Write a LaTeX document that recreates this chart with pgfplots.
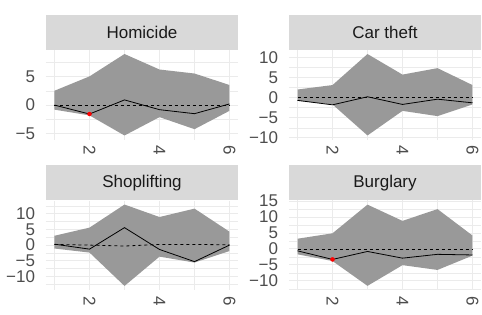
\documentclass[border=0pt]{standalone}
\usepackage{fontspec}
\setmainfont{Liberation Sans}
\usepackage{pgfplots}
\pgfplotsset{compat=1.18}
\definecolor{grid92}{HTML}{EBEBEB}
\definecolor{stripgray}{HTML}{D9D9D9}
\definecolor{ribbon}{HTML}{999999}
\definecolor{tick30}{HTML}{4D4D4D}
\definecolor{text10}{HTML}{1A1A1A}
\pgfplotsset{panel/.style={
  scale only axis, width=192.5pt, height=89.5pt,
  anchor=south west,
  xmin=0.75, xmax=6.25,
  xtick={2,4,6}, minor xtick={1,3,5},
  xticklabels={2,4,6},
  grid=both,
  major grid style={draw=grid92, line width=0.9pt},
  minor grid style={draw=grid92, line width=0.45pt},
  axis line style={draw=none},
  major tick length=0pt, minor tick length=0pt,
  tick style={draw=none},
  ticklabel style={font=\fontsize{17}{17}\selectfont, text=tick30},
  yticklabel style={anchor=east, inner xsep=10.5pt, inner ysep=0pt},
  xticklabel style={rotate=-90, anchor=west, inner xsep=6pt, inner ysep=0pt},
  title style={at={(0.5,1)}, anchor=south, yshift=-6pt, fill=stripgray,
    minimum width=192.5pt, minimum height=35pt, inner sep=0pt,
    text=text10, font=\fontsize{17}{17}\selectfont},
}}
\tikzset{est/.style={black, line width=0.8pt},
  nul/.style={black, line width=0.8pt, dash pattern=on 3pt off 3pt},
  rib/.style={fill=ribbon, draw=none},
  pt/.style={only marks, mark=*, mark size=2pt, color=red}}
\begin{document}
\begin{tikzpicture}
\path[use as bounding box] (0,0) rectangle (482pt,314pt);
% Homicide
\begin{axis}[panel, at={(45.75pt,174.5pt)}, title={Homicide},
  ymin=-6.0, ymax=9.6, ytick={-5,0,5}, yticklabels={−5,0,5},
  minor ytick={-2.5,2.5,7.5}]
\addplot[rib] coordinates {(1,2.5) (2,5.0) (3,8.9) (4,6.2) (5,5.5) (6,3.5)
  (6,-1.0) (5,-4.2) (4,-2.1) (3,-5.3) (2,-1.8) (1,-0.8)} -- cycle;
\addplot[nul] coordinates {(1,0) (2,0) (3,0) (4,0) (5,0) (6,0)};
\addplot[est] coordinates {(1,0.0) (2,-1.56) (3,0.9) (4,-0.8) (5,-1.5) (6,0.2)};
\addplot[pt] coordinates {(2,-1.56)};
\end{axis}
% Car theft
\begin{axis}[panel, at={(288.75pt,174.5pt)}, title={Car theft},
  ymin=-10.4, ymax=11.8, ytick={-10,-5,0,5,10}, yticklabels={−10,−5,0,5,10},
  minor ytick={-7.5,-2.5,2.5,7.5}]
\addplot[rib] coordinates {(1,2.0) (2,3.1) (3,10.8) (4,5.7) (5,7.3) (6,3.1)
  (6,-1.7) (5,-4.6) (4,-3.3) (3,-9.4) (2,-1.7) (1,-0.8)} -- cycle;
\addplot[nul] coordinates {(1,0) (2,0) (3,0) (4,0) (5,0) (6,0)};
\addplot[est] coordinates {(1,-0.7) (2,-1.8) (3,0.2) (4,-1.7) (5,-0.4) (6,-1.3)};
\end{axis}
% Shoplifting
\begin{axis}[panel, at={(45.75pt,24pt)}, title={Shoplifting},
  ymin=-14.4, ymax=14.3, ytick={-10,-5,0,5,10}, yticklabels={−10,−5,0,5,10},
  minor ytick={-12.5,-7.5,-2.5,2.5,7.5,12.5}]
\addplot[rib] coordinates {(1,3.0) (2,5.6) (3,13.0) (4,9.0) (5,11.7) (6,4.3)
  (6,-1.9) (5,-5.6) (4,-3.7) (3,-13.1) (2,-2.4) (1,-1.1)} -- cycle;
\addplot[nul] coordinates {(1,0.2) (2,0.0) (3,-0.3) (4,0.2) (5,0.2) (6,0.1)};
\addplot[est] coordinates {(1,0.3) (2,-1.3) (3,5.6) (4,-1.4) (5,-5.3) (6,0.0)};
\end{axis}
% Burglary
\begin{axis}[panel, at={(288.75pt,24pt)}, title={Burglary},
  ymin=-12.9, ymax=15.2, ytick={-10,-5,0,5,10,15}, yticklabels={−10,−5,0,5,10,15},
  minor ytick={-12.5,-7.5,-2.5,2.5,7.5,12.5}]
\addplot[rib] coordinates {(1,3.2) (2,4.9) (3,13.9) (4,8.8) (5,12.5) (6,4.2)
  (6,-2.1) (5,-6.6) (4,-5.1) (3,-11.6) (2,-3.8) (1,-1.7)} -- cycle;
\addplot[nul] coordinates {(1,0) (2,0) (3,0) (4,0) (5,0) (6,0)};
\addplot[est] coordinates {(1,-0.6) (2,-3.3) (3,-0.8) (4,-2.9) (5,-1.7) (6,-1.9)};
\addplot[pt] coordinates {(2,-3.3)};
\end{axis}
\end{tikzpicture}
\end{document}
